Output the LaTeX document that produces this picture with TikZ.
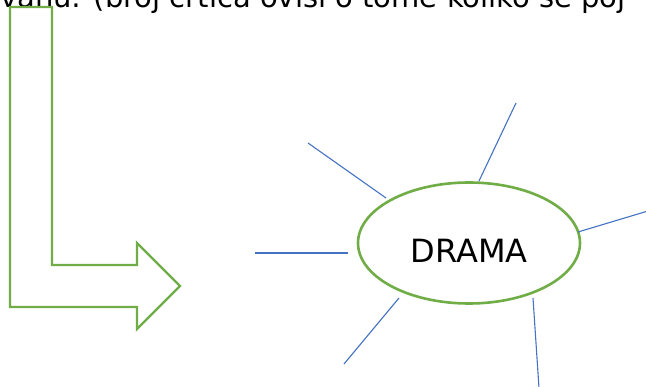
\documentclass[tikz,border=0pt]{standalone}
\usepackage{fontspec}
\usepackage{xcolor}
\usepackage{tikz}
\usetikzlibrary{
  shapes.geometric,
  positioning,
  calc
}
\newfontfamily\handfont{DejaVu Sans}
\definecolor{mygreen}{RGB}{112,173,71}
\definecolor{myblue}{RGB}{68,114,196}
\tikzset{
  bubble/.style={
    ellipse, draw=mygreen, fill=white, line width=2.6pt,
    minimum width=222pt, minimum height=121pt, inner sep=0pt,
    text centered, font=\handfont\fontsize{32}{34}\selectfont
  },
  ray/.style={draw=myblue, line width=1.1pt},
  bendarrow/.style={draw=mygreen, line width=2.2pt, fill=white, line join=miter},
  cuttext/.style={anchor=base west, inner sep=0pt,
    font=\handfont\fontsize{29}{31}\selectfont}
}

\begin{document}
\begin{tikzpicture}[x=1pt, y=-1pt]
		\useasboundingbox (0,0) rectangle (646,387);

		%% Cut-off instruction line
		\node[cuttext] (instr) at (0,8) {vanu: (broj crtica ovisi o tome koliko se poj};

		%% Bent arrow
		\draw[bendarrow] (10,7) -- (52,7) -- (52,265) -- (137,265) -- (137,243)
		-- (180,286) -- (137,329) -- (137,307) -- (10,307) -- cycle;

		%% Central bubble
		\node[bubble] (drama) at (469,243) {\smash{\raisebox{-20pt}{DRAMA}}};

		%% Ray ends
		\coordinate (ulo) at (308,143);  \coordinate (uli) at (386,198);
		\coordinate (upo) at (516,103);  \coordinate (upi) at (479,181);
		\coordinate (rio) at (648,211);  \coordinate (rii) at (578,232);
		\coordinate (leo) at (255,253);  \coordinate (lei) at (348,253);
		\coordinate (dlo) at (344,364);  \coordinate (dli) at (399,298);
		\coordinate (dro) at (539,388);  \coordinate (dri) at (533,298);

		%% Rays
		\foreach \from/\to in {ulo/uli, upo/upi, rio/rii, leo/lei, dlo/dli, dro/dri}
		\draw[ray] (\from) -- (\to);

	\end{tikzpicture}
\end{document}
